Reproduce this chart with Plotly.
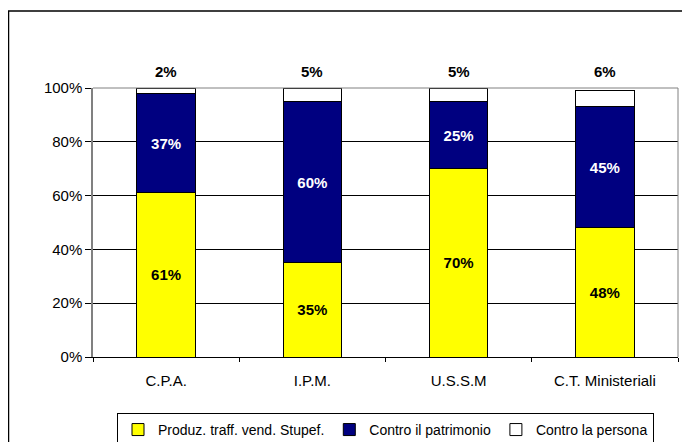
import plotly.graph_objects as go

categories = ["C.P.A.", "I.P.M.", "U.S.S.M", "C.T. Ministeriali"]
series_names = ["Produz. traff. vend. Stupef.", "Contro il patrimonio", "Contro la persona"]
stupef = [61, 35, 70, 48]
patrimonio = [37, 60, 25, 45]
persona = [2, 5, 5, 6]
colors = ["#FFFF00", "#000080", "#FFFFFF"]
label_colors = ["black", "white", "black"]

FONT = "Liberation Sans, Arial, sans-serif"

W, H = 682, 434
L, R, T, B = 85, 12, 80, 85
pw, ph = W - L - R, H - T - B

fig = go.Figure()
for name, vals, col, lc in zip(series_names, [stupef, patrimonio, persona], colors, label_colors):
    is_top = name == series_names[-1]
    fig.add_trace(go.Bar(
        x=categories, y=vals, name=name,
        marker=dict(color=col, line=dict(color="black", width=1)),
        width=0.4,
        text=None if is_top else [f"{v}%" for v in vals],
        textposition="inside", insidetextanchor="middle",
        textfont=dict(family=FONT, size=15, color=lc),
        texttemplate=None if is_top else "<b>%{text}</b>",
        hoverinfo="skip",
    ))

for cat, v in zip(categories, persona):
    fig.add_annotation(x=cat, y=100, text=f"<b>{v}%</b>", showarrow=False,
                       yanchor="bottom", yshift=6,
                       font=dict(family=FONT, size=15, color="black"))

# outer chart frame
fig.add_shape(type="rect", xref="paper", yref="paper",
              x0=(0.5 - L) / pw, x1=1.2, y0=-0.6, y1=(ph + T - 3) / ph,
              line=dict(color="black", width=1.5), fillcolor="rgba(0,0,0,0)", layer="below")

fig.update_layout(
    width=W, height=H,
    margin=dict(l=L, r=R, t=T, b=B, autoexpand=False),
    paper_bgcolor="white", plot_bgcolor="white",
    barmode="stack",
    font=dict(family=FONT, size=15, color="black"),
    showlegend=True,
    legend=dict(orientation="h", x=0.5, xanchor="center", y=-0.208, yanchor="top",
                bordercolor="black", borderwidth=1, font=dict(size=14),
                traceorder="normal", itemwidth=30, tracegroupgap=0),
    xaxis=dict(showline=True, linecolor="black", linewidth=1, mirror=False,
               ticks="outside", tickson="boundaries", ticklen=4, tickcolor="black",
               ticklabelstandoff=10, tickfont=dict(size=15)),
    yaxis=dict(range=[0, 100], dtick=20, ticksuffix="%", showgrid=True,
               gridcolor="black", gridwidth=1, showline=True, linecolor="#808080",
               linewidth=1.5, ticks="outside", ticklen=6, tickcolor="black",
               tickfont=dict(size=15), zeroline=False),
)
fig.add_shape(type="line", xref="paper", yref="paper", x0=0, x1=1, y0=1, y1=1,
              line=dict(color="#808080", width=1))
fig.add_shape(type="line", xref="paper", yref="paper", x0=1, x1=1, y0=0, y1=1,
              line=dict(color="#808080", width=1))

fig.write_html("out.html")
